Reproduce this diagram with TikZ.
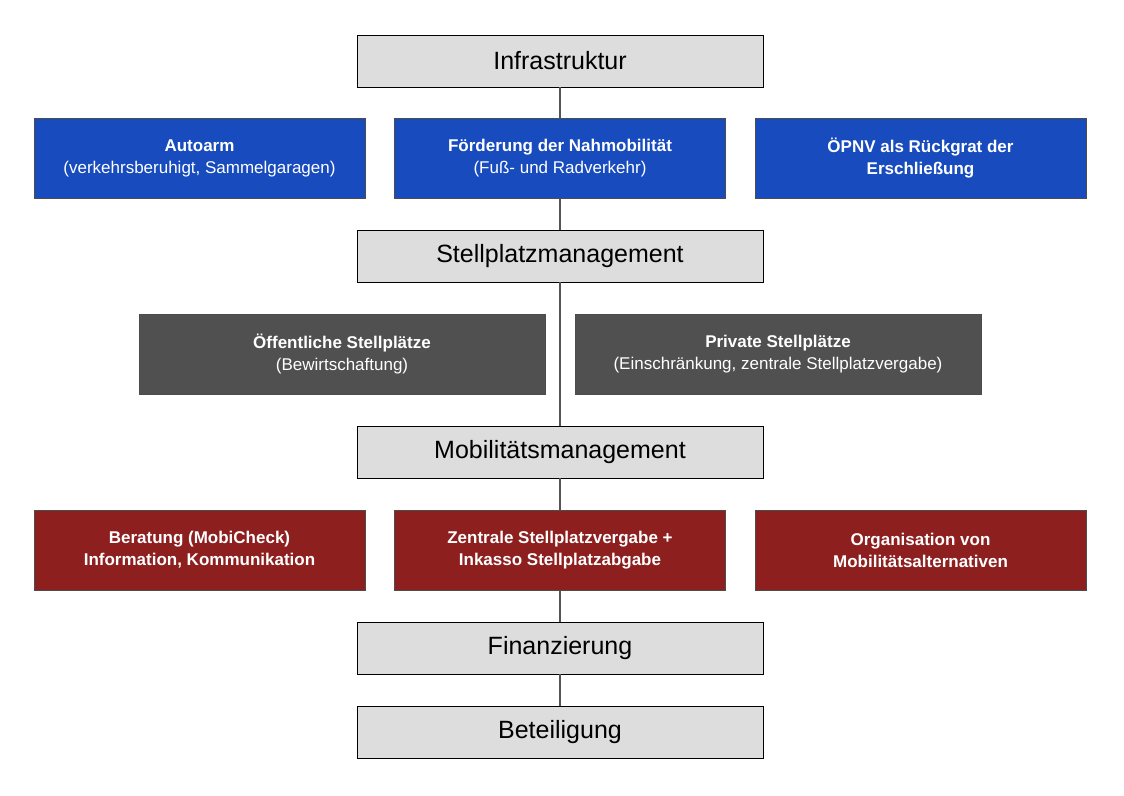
\documentclass[tikz,border=0pt]{standalone}
\usepackage{fontspec}
\setmainfont{Liberation Sans}
\usetikzlibrary{positioning}
\definecolor{stufe}{HTML}{DDDDDD}
\definecolor{blau}{HTML}{174BBE}
\definecolor{dunkel}{HTML}{505050}
\definecolor{rot}{HTML}{8E1F1F}
\definecolor{linie}{HTML}{555555}
\tikzset{
  ebene/.style={draw=black, fill=stufe, minimum width=406pt, minimum height=52pt,
    inner sep=0pt, font=\fontsize{25}{30}\selectfont},
  massnahme/.style={draw=black!70, minimum height=80pt, inner sep=0pt, align=center,
    text=white, font=\fontsize{17}{22}\selectfont},
  schmal/.style={massnahme, minimum width=331pt},
  breit/.style={massnahme, minimum width=406pt},
}
\begin{document}
\begin{tikzpicture}[x=1pt,y=-1pt]
  \useasboundingbox (0,0) rectangle (1124,795);
  % Ebenen
  \node[ebene] (infra) at (560,61) {Infrastruktur};
  \node[ebene] (stell) at (560,256) {Stellplatzmanagement};
  \node[ebene] (mobil) at (560,452) {Mobilitätsmanagement};
  \node[ebene] (finanz) at (560,648) {Finanzierung};
  \node[ebene] (beteil) at (560,732) {Beteiligung};
  % Infrastruktur
  \node[schmal, fill=blau] (autoarm) at (199.5,158) {\textbf{Autoarm}\\(verkehrsberuhigt, Sammelgaragen)};
  \node[schmal, fill=blau] (nahmob) at (560,158) {\textbf{Förderung der Nahmobilität}\\(Fuß- und Radverkehr)};
  \node[schmal, fill=blau] (oepnv) at (920.5,158) {\textbf{ÖPNV als Rückgrat der}\\\textbf{Erschließung}};
  % Stellplaetze
  \node[breit, fill=dunkel] (oeff) at (342,354) {\textbf{Öffentliche Stellplätze}\\(Bewirtschaftung)};
  \node[breit, fill=dunkel] (privat) at (778,354) {\textbf{Private Stellplätze}\\(Einschränkung, zentrale Stellplatzvergabe)};
  % Mobilitaet
  \node[schmal, fill=rot] (beratung) at (199.5,550) {\textbf{Beratung (MobiCheck)}\\\textbf{Information, Kommunikation}};
  \node[schmal, fill=rot] (vergabe) at (560,550) {\textbf{Zentrale Stellplatzvergabe +}\\\textbf{Inkasso Stellplatzabgabe}};
  \node[schmal, fill=rot] (alternativ) at (920.5,550) {\textbf{Organisation von}\\\textbf{Mobilitätsalternativen}};
  % Achse
  \begin{scope}[on background layer/.style={}]
  \end{scope}
  \draw[linie, line width=2pt] (infra) -- (nahmob) -- (stell) -- (mobil) -- (vergabe) -- (finanz) -- (beteil);
\end{tikzpicture}
\end{document}
